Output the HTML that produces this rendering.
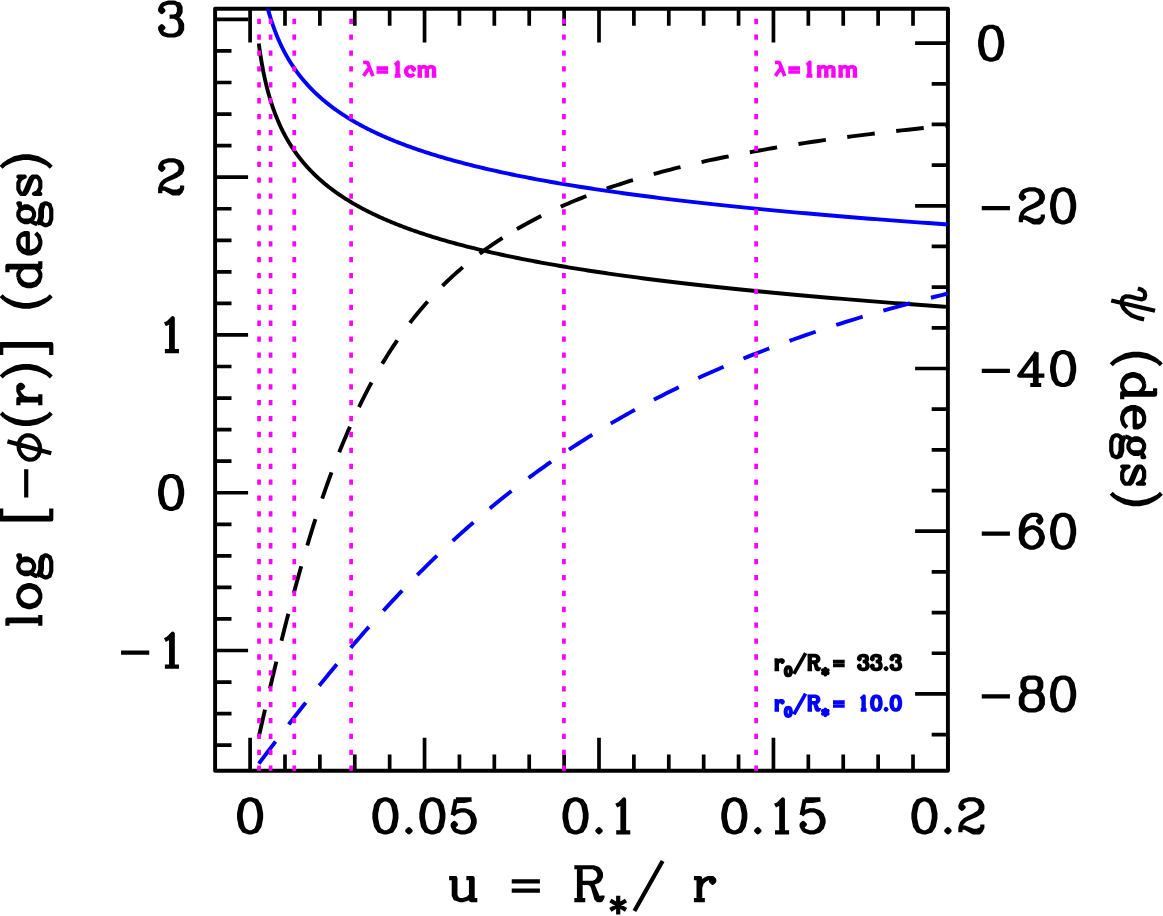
<!DOCTYPE html>
<html><head><meta charset="utf-8"><title>plot</title><style>html,body{margin:0;padding:0;background:#fff;font-family:"Liberation Sans",sans-serif}svg{display:block}</style></head><body>
<svg width="1163" height="916" viewBox="0 0 1163 916">
<rect width="1163" height="916" fill="#fff"/>
<defs><clipPath id="c"><rect x="215.10" y="8.70" width="732.80" height="762.10"/></clipPath></defs>
<path d="M250.10,770.80v-33.00M250.10,8.70v33.70M284.99,770.80v-16.40M284.99,8.70v17.10M319.88,770.80v-16.40M319.88,8.70v17.10M354.77,770.80v-16.40M354.77,8.70v17.10M389.66,770.80v-16.40M389.66,8.70v17.10M424.55,770.80v-33.00M424.55,8.70v33.70M459.44,770.80v-16.40M459.44,8.70v17.10M494.33,770.80v-16.40M494.33,8.70v17.10M529.22,770.80v-16.40M529.22,8.70v17.10M564.11,770.80v-16.40M564.11,8.70v17.10M599.00,770.80v-33.00M599.00,8.70v33.70M633.89,770.80v-16.40M633.89,8.70v17.10M668.78,770.80v-16.40M668.78,8.70v17.10M703.67,770.80v-16.40M703.67,8.70v17.10M738.56,770.80v-16.40M738.56,8.70v17.10M773.45,770.80v-33.00M773.45,8.70v33.70M808.34,770.80v-16.40M808.34,8.70v17.10M843.23,770.80v-16.40M843.23,8.70v17.10M878.12,770.80v-16.40M878.12,8.70v17.10M913.01,770.80v-16.40M913.01,8.70v17.10M947.90,770.80v-33.00M947.90,8.70v33.70M215.10,745.19h16.40M215.10,713.63h16.40M215.10,682.08h16.40M215.10,650.52h33.00M215.10,618.96h16.40M215.10,587.41h16.40M215.10,555.85h16.40M215.10,524.30h16.40M215.10,492.74h33.00M215.10,461.18h16.40M215.10,429.63h16.40M215.10,398.07h16.40M215.10,366.52h16.40M215.10,334.96h33.00M215.10,303.40h16.40M215.10,271.85h16.40M215.10,240.29h16.40M215.10,208.74h16.40M215.10,177.18h33.00M215.10,145.62h16.40M215.10,114.07h16.40M215.10,82.51h16.40M215.10,50.96h16.40M215.10,19.40h33.00M947.90,734.58h-16.20M947.90,693.90h-32.80M947.90,653.23h-16.20M947.90,612.55h-16.20M947.90,571.88h-16.20M947.90,531.20h-32.80M947.90,490.53h-16.20M947.90,449.85h-16.20M947.90,409.18h-16.20M947.90,368.50h-32.80M947.90,327.82h-16.20M947.90,287.15h-16.20M947.90,246.47h-16.20M947.90,205.80h-32.80M947.90,165.12h-16.20M947.90,124.45h-16.20M947.90,83.78h-16.20M947.90,43.10h-32.80" fill="none" stroke="#000" stroke-width="3.70"/>
<rect x="215.10" y="8.70" width="732.80" height="762.10" fill="none" stroke="#000" stroke-width="3.90" stroke-linejoin="round"/>
<g clip-path="url(#c)" fill="none" stroke-linejoin="round">
<path d="M258.82,43.61L259.24,46.76L259.66,49.77L260.08,52.65L260.50,55.41L260.92,58.06L261.33,60.61L261.75,63.06L262.17,65.42L262.59,67.70L263.01,69.91L263.43,72.04L263.85,74.11L264.27,76.11L264.68,78.05L265.10,79.94L265.52,81.77L265.94,83.55L266.36,85.29L266.78,86.98L267.20,88.62L267.61,90.23L268.03,91.80L268.45,93.33L268.87,94.82L269.29,96.28L269.71,97.71L270.13,99.10L270.55,100.47L270.96,101.81L271.38,103.12L271.80,104.41L272.22,105.67L272.64,106.90L273.06,108.11L273.48,109.30L273.89,110.47L274.31,111.62L274.73,112.74L275.15,113.85L275.57,114.94L275.99,116.00L276.41,117.06L276.83,118.09L277.24,119.11L277.66,120.11L278.08,121.09L278.50,122.06L278.92,123.02L279.34,123.96L279.76,124.89L280.18,125.80L280.59,126.70L281.01,127.59L281.43,128.47L281.85,129.33L282.27,130.18L282.69,131.02L283.11,131.85L283.52,132.67L283.94,133.48L284.36,134.27L284.78,135.06L285.20,135.84L285.62,136.60L286.04,137.36L286.46,138.11L286.87,138.85L287.29,139.58L287.71,140.30L288.13,141.02L288.55,141.72L288.97,142.42L289.39,143.11L289.80,143.79L290.22,144.47L290.64,145.14L291.06,145.80L291.48,146.45L291.90,147.10L292.32,147.74L292.74,148.37L293.17,149.01L293.60,149.65L294.03,150.29L294.47,150.92L294.91,151.56L295.36,152.20L295.81,152.83L296.27,153.47L296.73,154.10L297.20,154.74L297.67,155.37L298.15,156.01L298.63,156.64L299.11,157.27L299.60,157.91L300.10,158.54L300.60,159.17L301.10,159.80L301.61,160.44L302.13,161.07L302.65,161.70L303.17,162.33L303.70,162.96L304.24,163.59L304.78,164.22L305.33,164.85L305.88,165.47L306.44,166.10L307.00,166.73L307.57,167.36L308.15,167.98L308.73,168.61L309.31,169.24L309.90,169.86L310.50,170.49L311.11,171.11L311.72,171.74L312.33,172.36L312.96,172.98L313.58,173.61L314.22,174.23L314.86,174.85L315.51,175.48L316.16,176.10L316.82,176.72L317.49,177.34L318.16,177.96L318.84,178.58L319.53,179.20L320.23,179.82L320.93,180.43L321.64,181.05L322.35,181.67L323.07,182.29L323.80,182.90L324.54,183.52L325.28,184.14L326.04,184.75L326.80,185.37L327.56,185.98L328.34,186.59L329.12,187.21L329.91,187.82L330.71,188.43L331.51,189.04L332.33,189.66L333.15,190.27L333.98,190.88L334.82,191.49L335.67,192.10L336.52,192.71L337.39,193.31L338.26,193.92L339.14,194.53L340.03,195.14L340.93,195.74L341.84,196.35L342.76,196.95L343.68,197.56L344.62,198.16L345.56,198.77L346.52,199.37L347.48,199.97L348.46,200.57L349.44,201.18L350.43,201.78L351.44,202.38L352.45,202.98L353.47,203.58L354.51,204.18L355.55,204.78L356.61,205.37L357.67,205.97L358.75,206.57L359.83,207.16L360.93,207.76L362.04,208.35L363.16,208.95L364.29,209.54L365.43,210.14L366.58,210.73L367.75,211.32L368.93,211.91L370.11,212.50L371.31,213.09L372.53,213.68L373.75,214.27L374.99,214.86L376.24,215.45L377.50,216.04L378.77,216.63L380.06,217.21L381.36,217.80L382.67,218.38L384.00,218.97L385.33,219.55L386.69,220.13L388.05,220.72L389.43,221.30L390.83,221.88L392.23,222.46L393.65,223.04L395.09,223.62L396.54,224.20L398.00,224.78L399.48,225.36L400.98,225.93L402.49,226.51L404.01,227.09L405.55,227.66L407.10,228.24L408.67,228.81L410.26,229.38L411.86,229.96L413.48,230.53L415.11,231.10L416.76,231.67L418.43,232.24L420.11,232.81L421.81,233.38L423.53,233.95L425.26,234.51L427.01,235.08L428.78,235.65L430.57,236.21L432.38,236.78L434.20,237.34L436.04,237.90L437.90,238.47L439.78,239.03L441.67,239.59L443.59,240.15L445.52,240.71L447.48,241.27L449.45,241.83L451.45,242.39L453.46,242.95L455.49,243.50L457.55,244.06L459.62,244.61L461.72,245.17L463.83,245.72L465.97,246.28L468.13,246.83L470.31,247.38L472.51,247.93L474.73,248.48L476.98,249.03L479.25,249.58L481.54,250.13L483.86,250.68L486.19,251.22L488.55,251.77L490.94,252.32L493.35,252.86L495.78,253.40L498.24,253.95L500.72,254.49L503.22,255.03L505.76,255.58L508.31,256.12L510.89,256.66L513.50,257.20L516.14,257.73L518.80,258.27L521.48,258.81L524.20,259.35L526.94,259.88L529.71,260.42L532.50,260.95L535.33,261.48L538.18,262.02L541.06,262.55L543.97,263.08L546.91,263.61L549.88,264.14L552.87,264.67L555.90,265.20L558.96,265.73L562.05,266.26L565.17,266.78L568.32,267.31L571.50,267.84L574.71,268.36L577.96,268.88L581.24,269.41L584.55,269.93L587.90,270.45L591.27,270.97L594.68,271.49L598.13,272.01L601.61,272.53L605.13,273.05L608.68,273.57L612.26,274.09L615.88,274.60L619.54,275.12L623.24,275.64L626.97,276.15L630.74,276.66L634.54,277.18L638.39,277.69L642.27,278.20L646.19,278.71L650.15,279.22L654.15,279.73L658.19,280.24L662.27,280.75L666.40,281.26L670.56,281.77L674.76,282.27L679.01,282.78L683.30,283.29L687.63,283.79L692.01,284.30L696.43,284.80L700.89,285.30L705.40,285.81L709.95,286.31L714.55,286.81L719.19,287.31L723.88,287.81L728.62,288.31L733.41,288.81L738.24,289.31L743.12,289.81L748.05,290.30L753.03,290.80L758.06,291.30L763.14,291.79L768.27,292.29L773.45,292.78L778.69,293.28L783.97,293.77L789.31,294.26L794.70,294.76L800.15,295.25L805.65,295.74L811.20,296.23L816.82,296.72L822.48,297.21L828.21,297.70L833.99,298.19L839.83,298.68L845.72,299.17L851.68,299.66L857.70,300.15L863.77,300.64L869.91,301.12L876.11,301.61L882.37,302.10L888.69,302.58L895.07,303.07L901.52,303.55L908.04,304.04L914.62,304.52L921.26,305.01L927.98,305.49L934.75,305.97L941.60,306.46L947.90,306.90" stroke="#000" stroke-width="3.90"/>
<path d="M258.82,736.63L259.24,734.79L259.66,732.95L260.08,731.11L260.50,729.28L260.92,727.45L261.33,725.62L261.75,723.79L262.17,721.96L262.59,720.13L263.01,718.31L263.43,716.49L263.85,714.67L264.27,712.86L264.68,711.04L265.10,709.23L265.52,707.42L265.94,705.62L266.36,703.81L266.78,702.01L267.20,700.21L267.61,698.41L268.03,696.62L268.45,694.83L268.87,693.04L269.29,691.26L269.71,689.48L270.13,687.70L270.55,685.92L270.96,684.15L271.38,682.38L271.80,680.61L272.22,678.85L272.64,677.08L273.06,675.33L273.48,673.57L273.89,671.82L274.31,670.08L274.73,668.33L275.15,666.59L275.57,664.85L275.99,663.12L276.41,661.39L276.83,659.66L277.24,657.94L277.66,656.22L278.08,654.51L278.50,652.79L278.92,651.09L279.34,649.38L279.76,647.68L280.18,645.99L280.59,644.29L281.01,642.60L281.43,640.92L281.85,639.24L282.27,637.56L282.69,635.89L283.11,634.22L283.52,632.56L283.94,630.90L284.36,629.24L284.78,627.59L285.20,625.94L285.62,624.30L286.04,622.66L286.46,621.02L286.87,619.39L287.29,617.77L287.71,616.14L288.13,614.53L288.55,612.91L288.97,611.30L289.39,609.70L289.80,608.10L290.22,606.50L290.64,604.91L291.06,603.33L291.48,601.75L291.90,600.17L292.32,598.60L292.74,597.01L293.17,595.42L293.60,593.82L294.03,592.20L294.47,590.58L294.91,588.94L295.36,587.29L295.81,585.64L296.27,583.97L296.73,582.28L297.20,580.59L297.67,578.89L298.15,577.18L298.63,575.45L299.11,573.72L299.60,571.97L300.10,570.21L300.60,568.45L301.10,566.67L301.61,564.88L302.13,563.08L302.65,561.27L303.17,559.45L303.70,557.61L304.24,555.77L304.78,553.92L305.33,552.06L305.88,550.18L306.44,548.30L307.00,546.41L307.57,544.50L308.15,542.59L308.73,540.67L309.31,538.73L309.90,536.79L310.50,534.84L311.11,532.88L311.72,530.91L312.33,528.92L312.96,526.93L313.58,524.94L314.22,522.93L314.86,520.91L315.51,518.89L316.16,516.85L316.82,514.81L317.49,512.76L318.16,510.70L318.84,508.63L319.53,506.56L320.23,504.47L320.93,502.38L321.64,500.28L322.35,498.18L323.07,496.06L323.80,493.94L324.54,491.82L325.28,489.68L326.04,487.54L326.80,485.39L327.56,483.24L328.34,481.08L329.12,478.92L329.91,476.74L330.71,474.57L331.51,472.39L332.33,470.20L333.15,468.01L333.98,465.81L334.82,463.61L335.67,461.40L336.52,459.19L337.39,456.97L338.26,454.76L339.14,452.53L340.03,450.31L340.93,448.08L341.84,445.85L342.76,443.61L343.68,441.37L344.62,439.13L345.56,436.89L346.52,434.65L347.48,432.40L348.46,430.15L349.44,427.91L350.43,425.66L351.44,423.40L352.45,421.15L353.47,418.90L354.51,416.65L355.55,414.40L356.61,412.14L357.67,409.89L358.75,407.64L359.83,405.39L360.93,403.14L362.04,400.89L363.16,398.64L364.29,396.40L365.43,394.15L366.58,391.91L367.75,389.67L368.93,387.44L370.11,385.20L371.31,382.97L372.53,380.74L373.75,378.52L374.99,376.30L376.24,374.08L377.50,371.87L378.77,369.66L380.06,367.45L381.36,365.25L382.67,363.06L384.00,360.87L385.33,358.68L386.69,356.50L388.05,354.33L389.43,352.16L390.83,349.99L392.23,347.84L393.65,345.68L395.09,343.54L396.54,341.40L398.00,339.27L399.48,337.14L400.98,335.03L402.49,332.92L404.01,330.81L405.55,328.72L407.10,326.63L408.67,324.55L410.26,322.47L411.86,320.41L413.48,318.35L415.11,316.31L416.76,314.27L418.43,312.23L420.11,310.21L421.81,308.20L423.53,306.19L425.26,304.20L427.01,302.21L428.78,300.23L430.57,298.26L432.38,296.31L434.20,294.36L436.04,292.42L437.90,290.49L439.78,288.57L441.67,286.66L443.59,284.76L445.52,282.87L447.48,280.99L449.45,279.12L451.45,277.26L453.46,275.41L455.49,273.57L457.55,271.74L459.62,269.92L461.72,268.12L463.83,266.32L465.97,264.54L468.13,262.76L470.31,261.00L472.51,259.24L474.73,257.50L476.98,255.77L479.25,254.05L481.54,252.34L483.86,250.64L486.19,248.95L488.55,247.27L490.94,245.61L493.35,243.95L495.78,242.31L498.24,240.67L500.72,239.05L503.22,237.44L505.76,235.84L508.31,234.25L510.89,232.67L513.50,231.11L516.14,229.55L516.90,229.10" stroke="#000" stroke-width="3.90" stroke-dasharray="27.7 21.6"/>
<path d="M516.90,229.10L518.80,228.01L521.48,226.47L524.20,224.95L526.94,223.44L529.71,221.94L532.50,220.45L535.33,218.97L538.18,217.50L541.06,216.05L543.97,214.60L546.91,213.16L549.88,211.74L552.87,210.33L555.90,208.93L558.96,207.53L562.05,206.15L565.17,204.78L568.32,203.42L571.50,202.07L574.71,200.74L577.96,199.41L581.24,198.09L584.55,196.78L587.90,195.49L591.27,194.20L594.68,192.93L598.13,191.66L601.61,190.41L605.13,189.16L608.68,187.93L612.26,186.70L615.88,185.49L619.54,184.28L623.24,183.09L626.97,181.91L630.74,180.73L634.54,179.57L638.39,178.41L642.27,177.27L646.19,176.13L650.15,175.01L654.15,173.89L658.19,172.78L662.27,171.69L666.40,170.60L670.56,169.52L674.76,168.45L679.01,167.39L683.30,166.34L687.63,165.30L692.01,164.26L696.43,163.24L700.89,162.23L705.40,161.22L709.95,160.22L714.55,159.23L719.19,158.25L723.88,157.28L728.62,156.32L733.41,155.37L738.24,154.42L743.12,153.48L748.05,152.56L753.03,151.64L758.06,150.72L763.14,149.82L768.27,148.92L773.45,148.04L778.69,147.16L783.97,146.28L789.31,145.42L794.70,144.56L800.15,143.71L805.65,142.87L811.20,142.04L816.82,141.22L822.48,140.40L828.21,139.59L833.99,138.78L839.83,137.99L845.72,137.20L851.68,136.42L857.70,135.64L863.77,134.88L869.91,134.12L876.11,133.36L882.37,132.62L888.69,131.88L895.07,131.15L901.52,130.42L908.04,129.70L914.62,128.99L921.26,128.28L927.98,127.58L934.75,126.89L941.60,126.20L947.90,125.58" stroke="#000" stroke-width="3.90" stroke-dasharray="27.7 21.6"/>
<path d="M258.82,-38.82L259.24,-35.67L259.66,-32.66L260.08,-29.78L260.50,-27.02L260.92,-24.37L261.33,-21.82L261.75,-19.37L262.17,-17.01L262.59,-14.73L263.01,-12.52L263.43,-10.39L263.85,-8.32L264.27,-6.32L264.68,-4.38L265.10,-2.50L265.52,-0.66L265.94,1.12L266.36,2.86L266.78,4.54L267.20,6.19L267.61,7.80L268.03,9.36L268.45,10.89L268.87,12.39L269.29,13.85L269.71,15.28L270.13,16.67L270.55,18.04L270.96,19.38L271.38,20.69L271.80,21.98L272.22,23.24L272.64,24.47L273.06,25.68L273.48,26.87L273.89,28.04L274.31,29.18L274.73,30.31L275.15,31.42L275.57,32.50L275.99,33.57L276.41,34.62L276.83,35.66L277.24,36.68L277.66,37.68L278.08,38.66L278.50,39.63L278.92,40.59L279.34,41.53L279.76,42.46L280.18,43.37L280.59,44.27L281.01,45.16L281.43,46.03L281.85,46.90L282.27,47.75L282.69,48.59L283.11,49.42L283.52,50.24L283.94,51.04L284.36,51.84L284.78,52.63L285.20,53.40L285.62,54.17L286.04,54.93L286.46,55.68L286.87,56.42L287.29,57.15L287.71,57.87L288.13,58.59L288.55,59.29L288.97,59.99L289.39,60.68L289.80,61.36L290.22,62.04L290.64,62.71L291.06,63.37L291.48,64.02L291.90,64.67L292.32,65.31L292.74,65.94L293.17,66.58L293.60,67.22L294.03,67.86L294.47,68.49L294.91,69.13L295.36,69.77L295.81,70.40L296.27,71.04L296.73,71.67L297.20,72.31L297.67,72.94L298.15,73.58L298.63,74.21L299.11,74.84L299.60,75.48L300.10,76.11L300.60,76.74L301.10,77.37L301.61,78.00L302.13,78.64L302.65,79.27L303.17,79.90L303.70,80.53L304.24,81.16L304.78,81.79L305.33,82.41L305.88,83.04L306.44,83.67L307.00,84.30L307.57,84.93L308.15,85.55L308.73,86.18L309.31,86.81L309.90,87.43L310.50,88.06L311.11,88.68L311.72,89.31L312.33,89.93L312.96,90.55L313.58,91.18L314.22,91.80L314.86,92.42L315.51,93.04L316.16,93.67L316.82,94.29L317.49,94.91L318.16,95.53L318.84,96.15L319.53,96.77L320.23,97.39L320.93,98.00L321.64,98.62L322.35,99.24L323.07,99.86L323.80,100.47L324.54,101.09L325.28,101.70L326.04,102.32L326.80,102.93L327.56,103.55L328.34,104.16L329.12,104.78L329.91,105.39L330.71,106.00L331.51,106.61L332.33,107.22L333.15,107.84L333.98,108.45L334.82,109.06L335.67,109.67L336.52,110.27L337.39,110.88L338.26,111.49L339.14,112.10L340.03,112.70L340.93,113.31L341.84,113.92L342.76,114.52L343.68,115.13L344.62,115.73L345.56,116.34L346.52,116.94L347.48,117.54L348.46,118.14L349.44,118.75L350.43,119.35L351.44,119.95L352.45,120.55L353.47,121.15L354.51,121.75L355.55,122.34L356.61,122.94L357.67,123.54L358.75,124.14L359.83,124.73L360.93,125.33L362.04,125.92L363.16,126.52L364.29,127.11L365.43,127.70L366.58,128.30L367.75,128.89L368.93,129.48L370.11,130.07L371.31,130.66L372.53,131.25L373.75,131.84L374.99,132.43L376.24,133.02L377.50,133.61L378.77,134.19L380.06,134.78L381.36,135.37L382.67,135.95L384.00,136.54L385.33,137.12L386.69,137.70L388.05,138.29L389.43,138.87L390.83,139.45L392.23,140.03L393.65,140.61L395.09,141.19L396.54,141.77L398.00,142.35L399.48,142.93L400.98,143.50L402.49,144.08L404.01,144.66L405.55,145.23L407.10,145.80L408.67,146.38L410.26,146.95L411.86,147.52L413.48,148.10L415.11,148.67L416.76,149.24L418.43,149.81L420.11,150.38L421.81,150.95L423.53,151.52L425.26,152.08L427.01,152.65L428.78,153.22L430.57,153.78L432.38,154.35L434.20,154.91L436.04,155.47L437.90,156.04L439.78,156.60L441.67,157.16L443.59,157.72L445.52,158.28L447.48,158.84L449.45,159.40L451.45,159.96L453.46,160.51L455.49,161.07L457.55,161.63L459.62,162.18L461.72,162.74L463.83,163.29L465.97,163.84L468.13,164.40L470.31,164.95L472.51,165.50L474.73,166.05L476.98,166.60L479.25,167.15L481.54,167.70L483.86,168.25L486.19,168.79L488.55,169.34L490.94,169.88L493.35,170.43L495.78,170.97L498.24,171.52L500.72,172.06L503.22,172.60L505.76,173.14L508.31,173.68L510.89,174.22L513.50,174.76L516.14,175.30L518.80,175.84L521.48,176.38L524.20,176.91L526.94,177.45L529.71,177.99L532.50,178.52L535.33,179.05L538.18,179.59L541.06,180.12L543.97,180.65L546.91,181.18L549.88,181.71L552.87,182.24L555.90,182.77L558.96,183.30L562.05,183.83L565.17,184.35L568.32,184.88L571.50,185.40L574.71,185.93L577.96,186.45L581.24,186.98L584.55,187.50L587.90,188.02L591.27,188.54L594.68,189.06L598.13,189.58L601.61,190.10L605.13,190.62L608.68,191.14L612.26,191.66L615.88,192.17L619.54,192.69L623.24,193.20L626.97,193.72L630.74,194.23L634.54,194.75L638.39,195.26L642.27,195.77L646.19,196.28L650.15,196.79L654.15,197.30L658.19,197.81L662.27,198.32L666.40,198.83L670.56,199.34L674.76,199.84L679.01,200.35L683.30,200.86L687.63,201.36L692.01,201.86L696.43,202.37L700.89,202.87L705.40,203.37L709.95,203.88L714.55,204.38L719.19,204.88L723.88,205.38L728.62,205.88L733.41,206.38L738.24,206.88L743.12,207.37L748.05,207.87L753.03,208.37L758.06,208.87L763.14,209.36L768.27,209.86L773.45,210.35L778.69,210.85L783.97,211.34L789.31,211.83L794.70,212.33L800.15,212.82L805.65,213.31L811.20,213.80L816.82,214.29L822.48,214.78L828.21,215.27L833.99,215.76L839.83,216.25L845.72,216.74L851.68,217.23L857.70,217.72L863.77,218.20L869.91,218.69L876.11,219.18L882.37,219.66L888.69,220.15L895.07,220.64L901.52,221.12L908.04,221.61L914.62,222.09L921.26,222.58L927.98,223.06L934.75,223.54L941.60,224.03L947.90,224.47" stroke="#0000ff" stroke-width="3.90"/>
<path d="M258.82,763.63L259.24,763.07L259.66,762.52L260.08,761.96L260.50,761.40L260.92,760.85L261.33,760.29L261.75,759.74L262.17,759.18L262.59,758.63L263.01,758.07L263.43,757.52L263.85,756.96L264.27,756.41L264.68,755.86L265.10,755.30L265.52,754.75L265.94,754.20L266.36,753.64L266.78,753.09L267.20,752.54L267.61,751.98L268.03,751.43L268.45,750.88L268.87,750.33L269.29,749.78L269.71,749.22L270.13,748.67L270.55,748.12L270.96,747.57L271.38,747.02L271.80,746.47L272.22,745.92L272.64,745.37L273.06,744.82L273.48,744.27L273.89,743.72L274.31,743.17L274.73,742.62L275.15,742.07L275.57,741.52L275.99,740.97L276.41,740.43L276.83,739.88L277.24,739.33L277.66,738.78L278.08,738.24L278.50,737.69L278.92,737.14L279.34,736.59L279.76,736.05L280.18,735.50L280.59,734.96L281.01,734.41L281.43,733.86L281.85,733.32L282.27,732.77L282.69,732.23L283.11,731.68L283.52,731.14L283.94,730.60L284.36,730.05L284.78,729.51L285.20,728.97L285.62,728.42L286.04,727.88L286.46,727.34L286.87,726.80L287.29,726.25L287.71,725.71L288.13,725.17L288.55,724.63L288.97,724.09L289.39,723.55L289.80,723.01L290.22,722.47L290.64,721.93L291.06,721.39L291.48,720.85L291.90,720.31L292.32,719.77L292.74,719.23L293.17,718.68L293.60,718.12L294.03,717.57L294.47,717.00L294.91,716.43L295.36,715.86L295.81,715.28L296.27,714.69L296.73,714.10L297.20,713.50L297.67,712.90L298.15,712.29L298.63,711.68L299.11,711.06L299.60,710.44L300.10,709.81L300.60,709.17L301.10,708.53L301.61,707.88L302.13,707.22L302.65,706.56L303.17,705.89L303.70,705.22L304.24,704.54L304.78,703.86L305.33,703.16L305.88,702.47L306.44,701.76L307.00,701.05L307.57,700.33L308.15,699.61L308.73,698.88L309.31,698.14L309.90,697.39L310.50,696.64L311.11,695.88L311.72,695.12L312.33,694.35L312.96,693.57L313.58,692.78L314.22,691.99L314.86,691.19L315.51,690.38L316.16,689.57L316.82,688.74L317.49,687.91L318.16,687.08L318.84,686.23L319.53,685.38L320.23,684.52L320.93,683.65L321.64,682.78L322.35,681.90L323.07,681.01L323.80,680.11L324.54,679.20L325.28,678.29L326.04,677.37L326.80,676.44L327.56,675.50L328.34,674.55L329.12,673.60L329.91,672.63L330.71,671.66L331.51,670.68L332.33,669.69L333.15,668.70L333.98,667.69L334.82,666.68L335.67,665.66L336.52,664.63L337.39,663.59L338.26,662.54L339.14,661.48L340.03,660.42L340.93,659.34L341.84,658.26L342.76,657.17L343.68,656.06L344.62,654.95L345.56,653.83L346.52,652.70L347.48,651.57L348.46,650.42L349.44,649.26L350.43,648.10L351.44,646.92L352.45,645.73L353.47,644.54L354.51,643.34L355.55,642.12L356.61,640.90L357.67,639.67L358.75,638.43L359.83,637.17L360.93,635.91L362.04,634.64L363.16,633.36L364.29,632.07L365.43,630.77L366.58,629.46L367.75,628.14L368.93,626.81L370.11,625.47L371.31,624.12L372.53,622.76L373.75,621.39L374.99,620.01L376.24,618.62L377.50,617.22L378.77,615.80L380.06,614.38L381.36,612.95L382.67,611.51L384.00,610.06L385.33,608.60L386.69,607.13L388.05,605.65L389.43,604.16L390.83,602.66L392.23,601.15L393.65,599.63L395.09,598.10L396.54,596.55L398.00,595.00L399.48,593.44L400.98,591.87L402.49,590.29L404.01,588.70L405.55,587.10L407.10,585.49L408.67,583.86L410.26,582.23L411.86,580.59L413.48,578.94L415.11,577.28L416.76,575.61L418.43,573.93L420.11,572.24L421.81,570.54L423.53,568.83L425.26,567.11L427.01,565.39L428.78,563.65L430.57,561.90L432.38,560.15L434.20,558.38L436.04,556.61L437.90,554.82L439.78,553.03L441.67,551.23L443.59,549.42L445.52,547.60L447.48,545.77L449.45,543.94L451.45,542.09L453.46,540.24L455.49,538.38L457.55,536.51L459.62,534.63L461.72,532.74L463.83,530.85L465.97,528.95L468.13,527.04L470.31,525.12L472.51,523.19L474.73,521.26L476.98,519.32L479.25,517.37L481.54,515.42L483.86,513.46L486.19,511.49L488.55,509.52L490.94,507.54L493.35,505.55L495.78,503.56L498.24,501.56L500.72,499.55L503.22,497.54L505.76,495.52L508.31,493.50L510.89,491.47L513.50,489.44L516.14,487.40L518.80,485.36L521.48,483.31L524.20,481.26L526.94,479.21L529.71,477.15L532.50,475.08L535.33,473.01L538.18,470.94L541.06,468.87L543.97,466.79L546.91,464.70L549.88,462.62L552.87,460.53L555.90,458.44L558.96,456.35L562.05,454.25L565.17,452.16L568.32,450.06L571.50,447.96L574.71,445.85L577.96,443.75L581.24,441.64L584.55,439.54L587.90,437.43L591.27,435.33L594.68,433.22L598.13,431.11L601.61,429.00L605.13,426.89L608.68,424.79L612.26,422.68L615.88,420.57L619.54,418.47L623.24,416.37L626.97,414.26L630.74,412.16L634.54,410.06L638.39,407.97L642.27,405.87L646.19,403.78L650.15,401.69L654.15,399.60L658.19,397.51L662.27,395.43L666.40,393.35L670.56,391.28L674.76,389.20L679.01,387.13L683.30,385.07L687.63,383.01L692.01,380.95L696.43,378.90L700.89,376.85L705.40,374.81L709.95,372.77L714.55,370.74L719.19,368.71L723.88,366.69L728.62,364.67L733.41,362.66L738.24,360.65L743.12,358.65L748.05,356.66L753.03,354.67L758.06,352.69L763.14,350.71L768.27,348.74L773.45,346.78L778.69,344.83L783.97,342.88L789.31,340.94L794.70,339.00L800.15,337.08L805.65,335.16L811.20,333.25L816.82,331.34L822.48,329.45L828.21,327.56L833.99,325.68L839.83,323.81L845.72,321.94L851.68,320.09L857.70,318.24L863.77,316.40L869.91,314.57L876.11,312.75L882.37,310.94L888.69,309.13L895.07,307.34L901.52,305.55L908.04,303.77L914.62,302.01L921.26,300.25L927.98,298.50L934.75,296.76L941.60,295.03L947.90,293.46" stroke="#0000ff" stroke-width="3.90" stroke-dasharray="27.7 21.6"/>
<path d="M259.05,770.90V-1.30" stroke="#ff00ff" stroke-width="3.7" stroke-dasharray="5.3 10.593"/>
<path d="M270.60,770.90V-1.30" stroke="#ff00ff" stroke-width="3.7" stroke-dasharray="5.3 10.593"/>
<path d="M294.25,770.90V-1.30" stroke="#ff00ff" stroke-width="3.7" stroke-dasharray="5.3 10.593"/>
<path d="M351.10,770.90V-1.30" stroke="#ff00ff" stroke-width="3.7" stroke-dasharray="5.3 10.593"/>
<path d="M563.90,770.90V-1.30" stroke="#ff00ff" stroke-width="3.7" stroke-dasharray="5.3 10.593"/>
<path d="M756.15,770.90V-1.30" stroke="#ff00ff" stroke-width="3.7" stroke-dasharray="5.3 10.593"/>
</g>
<path d="M248.53,799.43L243.84,801.00L240.71,805.69L239.14,813.52L239.14,818.21L240.71,826.04L243.84,830.73L248.53,832.30L251.66,832.30L256.36,830.73L259.49,826.04L261.06,818.21L261.06,813.52L259.49,805.69L256.36,801.00L251.66,799.43ZM248.53,799.43L245.41,801.00L243.84,802.56L242.27,805.69L240.71,813.52L240.71,818.21L242.27,826.04L243.84,829.17L245.41,830.73L248.53,832.30M251.66,832.30L254.79,830.73L256.36,829.17L257.93,826.04L259.49,818.21L259.49,813.52L257.93,805.69L256.36,802.56L254.79,801.00L251.66,799.43M383.86,799.43L379.17,801.00L376.04,805.69L374.47,813.52L374.47,818.21L376.04,826.04L379.17,830.73L383.86,832.30L386.99,832.30L391.69,830.73L394.82,826.04L396.38,818.21L396.38,813.52L394.82,805.69L391.69,801.00L386.99,799.43ZM383.86,799.43L380.73,801.00L379.17,802.56L377.60,805.69L376.04,813.52L376.04,818.21L377.60,826.04L379.17,829.17L380.73,830.73L383.86,832.30M386.99,832.30L390.12,830.73L391.69,829.17L393.25,826.04L394.82,818.21L394.82,813.52L393.25,805.69L391.69,802.56L390.12,801.00L386.99,799.43M408.90,829.17L407.34,830.73L408.90,832.30L410.47,830.73ZM430.81,799.43L426.12,801.00L422.99,805.69L421.42,813.52L421.42,818.21L422.99,826.04L426.12,830.73L430.81,832.30L433.94,832.30L438.64,830.73L441.77,826.04L443.33,818.21L443.33,813.52L441.77,805.69L438.64,801.00L433.94,799.43ZM430.81,799.43L427.68,801.00L426.12,802.56L424.55,805.69L422.99,813.52L422.99,818.21L424.55,826.04L426.12,829.17L427.68,830.73L430.81,832.30M433.94,832.30L437.07,830.73L438.64,829.17L440.20,826.04L441.77,818.21L441.77,813.52L440.20,805.69L438.64,802.56L437.07,801.00L433.94,799.43M455.85,799.43L452.72,815.08M452.72,815.08L455.85,811.95L460.55,810.39L465.24,810.39L469.94,811.95L473.07,815.08L474.63,819.78L474.63,822.91L473.07,827.60L469.94,830.73L465.24,832.30L460.55,832.30L455.85,830.73L454.29,829.17L452.72,826.04L452.72,824.47L454.29,822.91L455.85,824.47L454.29,826.04M465.24,810.39L468.37,811.95L471.50,815.08L473.07,819.78L473.07,822.91L471.50,827.60L468.37,830.73L465.24,832.30M455.85,799.43L471.50,799.43M455.85,801.00L463.68,801.00L471.50,799.43M573.96,799.43L569.26,801.00L566.13,805.69L564.57,813.52L564.57,818.21L566.13,826.04L569.26,830.73L573.96,832.30L577.09,832.30L581.78,830.73L584.91,826.04L586.48,818.21L586.48,813.52L584.91,805.69L581.78,801.00L577.09,799.43ZM573.96,799.43L570.83,801.00L569.26,802.56L567.70,805.69L566.13,813.52L566.13,818.21L567.70,826.04L569.26,829.17L570.83,830.73L573.96,832.30M577.09,832.30L580.22,830.73L581.78,829.17L583.35,826.04L584.91,818.21L584.91,813.52L583.35,805.69L581.78,802.56L580.22,801.00L577.09,799.43M599.00,829.17L597.43,830.73L599.00,832.30L600.57,830.73ZM616.22,805.69L619.35,804.13L624.04,799.43L624.04,832.30M622.48,801.00L622.48,832.30M616.22,832.30L630.30,832.30M732.76,799.43L728.07,801.00L724.94,805.69L723.37,813.52L723.37,818.21L724.94,826.04L728.07,830.73L732.76,832.30L735.89,832.30L740.59,830.73L743.72,826.04L745.28,818.21L745.28,813.52L743.72,805.69L740.59,801.00L735.89,799.43ZM732.76,799.43L729.63,801.00L728.07,802.56L726.50,805.69L724.94,813.52L724.94,818.21L726.50,826.04L728.07,829.17L729.63,830.73L732.76,832.30M735.89,832.30L739.02,830.73L740.59,829.17L742.15,826.04L743.72,818.21L743.72,813.52L742.15,805.69L740.59,802.56L739.02,801.00L735.89,799.43M757.80,829.17L756.24,830.73L757.80,832.30L759.37,830.73ZM775.02,805.69L778.15,804.13L782.84,799.43L782.84,832.30M781.28,801.00L781.28,832.30M775.02,832.30L789.10,832.30M804.75,799.43L801.62,815.08M801.62,815.08L804.75,811.95L809.45,810.39L814.14,810.39L818.84,811.95L821.97,815.08L823.53,819.78L823.53,822.91L821.97,827.60L818.84,830.73L814.14,832.30L809.45,832.30L804.75,830.73L803.19,829.17L801.62,826.04L801.62,824.47L803.19,822.91L804.75,824.47L803.19,826.04M814.14,810.39L817.27,811.95L820.40,815.08L821.97,819.78L821.97,822.91L820.40,827.60L817.27,830.73L814.14,832.30M804.75,799.43L820.40,799.43M804.75,801.00L812.58,801.00L820.40,799.43M922.86,799.43L918.17,801.00L915.04,805.69L913.47,813.52L913.47,818.21L915.04,826.04L918.17,830.73L922.86,832.30L925.99,832.30L930.69,830.73L933.82,826.04L935.38,818.21L935.38,813.52L933.82,805.69L930.69,801.00L925.99,799.43ZM922.86,799.43L919.73,801.00L918.17,802.56L916.60,805.69L915.04,813.52L915.04,818.21L916.60,826.04L918.17,829.17L919.73,830.73L922.86,832.30M925.99,832.30L929.12,830.73L930.69,829.17L932.25,826.04L933.82,818.21L933.82,813.52L932.25,805.69L930.69,802.56L929.12,801.00L925.99,799.43M947.90,829.17L946.34,830.73L947.90,832.30L949.47,830.73ZM961.99,805.69L963.55,807.26L961.99,808.82L960.42,807.26L960.42,805.69L961.99,802.56L963.55,801.00L968.25,799.43L974.51,799.43L979.20,801.00L980.77,802.56L982.33,805.69L982.33,808.82L980.77,811.95L976.07,815.08L968.25,818.21L965.12,819.78L961.99,822.91L960.42,827.60L960.42,832.30M974.51,799.43L977.64,801.00L979.20,802.56L980.77,805.69L980.77,808.82L979.20,811.95L974.51,815.08L968.25,818.21M960.42,829.17L961.99,827.60L965.12,827.60L972.94,830.73L977.64,830.73L980.77,829.17L982.33,827.60M965.12,827.60L972.94,832.30L979.20,832.30L980.77,830.73L982.33,827.60L982.33,824.47M161.76,8.89L163.32,10.46L161.76,12.03L160.19,10.46L160.19,8.89L161.76,5.77L163.32,4.20L168.02,2.63L174.28,2.63L178.97,4.20L180.54,7.33L180.54,12.03L178.97,15.16L174.28,16.72L169.59,16.72M174.28,2.63L177.41,4.20L178.97,7.33L178.97,12.03L177.41,15.16L174.28,16.72M174.28,16.72L177.41,18.29L180.54,21.41L182.10,24.55L182.10,29.24L180.54,32.37L178.97,33.94L174.28,35.50L168.02,35.50L163.32,33.94L161.76,32.37L160.19,29.24L160.19,27.68L161.76,26.11L163.32,27.68L161.76,29.24M178.97,19.85L180.54,24.55L180.54,29.24L178.97,32.37L177.41,33.94L174.28,35.50M161.76,166.68L163.32,168.24L161.76,169.81L160.19,168.24L160.19,166.68L161.76,163.55L163.32,161.98L168.02,160.41L174.28,160.41L178.97,161.98L180.54,163.55L182.10,166.68L182.10,169.81L180.54,172.94L175.84,176.06L168.02,179.19L164.89,180.76L161.76,183.89L160.19,188.59L160.19,193.28M174.28,160.41L177.41,161.98L178.97,163.55L180.54,166.68L180.54,169.81L178.97,172.94L174.28,176.06L168.02,179.19M160.19,190.15L161.76,188.59L164.89,188.59L172.72,191.72L177.41,191.72L180.54,190.15L182.10,188.59M164.89,188.59L172.72,193.28L178.97,193.28L180.54,191.72L182.10,188.59L182.10,185.46M164.89,324.45L168.02,322.89L172.72,318.19L172.72,351.06M171.15,319.76L171.15,351.06M164.89,351.06L178.97,351.06M169.59,475.98L164.89,477.54L161.76,482.24L160.19,490.06L160.19,494.76L161.76,502.58L164.89,507.28L169.59,508.84L172.72,508.84L177.41,507.28L180.54,502.58L182.10,494.76L182.10,490.06L180.54,482.24L177.41,477.54L172.72,475.98ZM169.59,475.98L166.46,477.54L164.89,479.11L163.32,482.24L161.76,490.06L161.76,494.76L163.32,502.58L164.89,505.71L166.46,507.28L169.59,508.84M172.72,508.84L175.84,507.28L177.41,505.71L178.97,502.58L180.54,494.76L180.54,490.06L178.97,482.24L177.41,479.11L175.84,477.54L172.72,475.98M121.07,652.53L149.24,652.53M164.89,640.01L168.02,638.45L172.72,633.75L172.72,666.62M171.15,635.32L171.15,666.62M164.89,666.62L178.98,666.62M989.59,26.73L984.89,28.30L981.76,33.00L980.20,40.82L980.20,45.52L981.76,53.34L984.89,58.04L989.59,59.60L992.72,59.60L997.41,58.04L1000.54,53.34L1002.11,45.52L1002.11,40.82L1000.54,33.00L997.41,28.30L992.72,26.73ZM989.59,26.73L986.46,28.30L984.89,29.87L983.33,33.00L981.76,40.82L981.76,45.52L983.33,53.34L984.89,56.47L986.46,58.04L989.59,59.60M992.72,59.60L995.85,58.04L997.41,56.47L998.98,53.34L1000.54,45.52L1000.54,40.82L998.98,33.00L997.41,29.87L995.85,28.30L992.72,26.73M981.76,208.21L1009.93,208.21M1022.45,195.69L1024.02,197.26L1022.45,198.82L1020.88,197.26L1020.88,195.69L1022.45,192.56L1024.02,191.00L1028.71,189.43L1034.97,189.43L1039.66,191.00L1041.23,192.56L1042.80,195.69L1042.80,198.82L1041.23,201.95L1036.54,205.08L1028.71,208.21L1025.58,209.78L1022.45,212.91L1020.88,217.60L1020.88,222.30M1034.97,189.43L1038.10,191.00L1039.66,192.56L1041.23,195.69L1041.23,198.82L1039.66,201.95L1034.97,205.08L1028.71,208.21M1020.88,219.17L1022.45,217.60L1025.58,217.60L1033.40,220.73L1038.10,220.73L1041.23,219.17L1042.80,217.60M1025.58,217.60L1033.40,222.30L1039.66,222.30L1041.23,220.73L1042.80,217.60L1042.80,214.47M1061.58,189.43L1056.88,191.00L1053.75,195.69L1052.18,203.52L1052.18,208.21L1053.75,216.04L1056.88,220.73L1061.58,222.30L1064.70,222.30L1069.40,220.73L1072.53,216.04L1074.10,208.21L1074.10,203.52L1072.53,195.69L1069.40,191.00L1064.70,189.43ZM1061.58,189.43L1058.44,191.00L1056.88,192.56L1055.32,195.69L1053.75,203.52L1053.75,208.21L1055.32,216.04L1056.88,219.17L1058.44,220.73L1061.58,222.30M1064.70,222.30L1067.84,220.73L1069.40,219.17L1070.96,216.04L1072.53,208.21L1072.53,203.52L1070.96,195.69L1069.40,192.56L1067.84,191.00L1064.70,189.43M981.76,370.92L1009.93,370.92M1034.97,355.26L1034.97,385.00M1036.54,352.13L1036.54,385.00M1036.54,352.13L1019.32,375.61L1044.36,375.61M1030.28,385.00L1041.23,385.00M1061.58,352.13L1056.88,353.70L1053.75,358.39L1052.18,366.22L1052.18,370.92L1053.75,378.74L1056.88,383.44L1061.58,385.00L1064.70,385.00L1069.40,383.44L1072.53,378.74L1074.10,370.92L1074.10,366.22L1072.53,358.39L1069.40,353.70L1064.70,352.13ZM1061.58,352.13L1058.44,353.70L1056.88,355.26L1055.32,358.39L1053.75,366.22L1053.75,370.92L1055.32,378.74L1056.88,381.87L1058.44,383.44L1061.58,385.00M1064.70,385.00L1067.84,383.44L1069.40,381.87L1070.96,378.74L1072.53,370.92L1072.53,366.22L1070.96,358.39L1069.40,355.26L1067.84,353.70L1064.70,352.13M981.76,533.61L1009.93,533.61M1039.66,519.53L1038.10,521.09L1039.66,522.66L1041.23,521.09L1041.23,519.53L1039.66,516.40L1036.54,514.83L1031.84,514.83L1027.14,516.40L1024.02,519.53L1022.45,522.66L1020.88,528.92L1020.88,538.31L1022.45,543.00L1025.58,546.13L1030.28,547.70L1033.40,547.70L1038.10,546.13L1041.23,543.00L1042.80,538.31L1042.80,536.74L1041.23,532.05L1038.10,528.92L1033.40,527.35L1031.84,527.35L1027.14,528.92L1024.02,532.05L1022.45,536.74M1031.84,514.83L1028.71,516.40L1025.58,519.53L1024.02,522.66L1022.45,528.92L1022.45,538.31L1024.02,543.00L1027.14,546.13L1030.28,547.70M1033.40,547.70L1036.54,546.13L1039.66,543.00L1041.23,538.31L1041.23,536.74L1039.66,532.05L1036.54,528.92L1033.40,527.35M1061.58,514.83L1056.88,516.40L1053.75,521.09L1052.18,528.92L1052.18,533.61L1053.75,541.44L1056.88,546.13L1061.58,547.70L1064.70,547.70L1069.40,546.13L1072.53,541.44L1074.10,533.61L1074.10,528.92L1072.53,521.09L1069.40,516.40L1064.70,514.83ZM1061.58,514.83L1058.44,516.40L1056.88,517.96L1055.32,521.09L1053.75,528.92L1053.75,533.61L1055.32,541.44L1056.88,544.57L1058.44,546.13L1061.58,547.70M1064.70,547.70L1067.84,546.13L1069.40,544.57L1070.96,541.44L1072.53,533.61L1072.53,528.92L1070.96,521.09L1069.40,517.96L1067.84,516.40L1064.70,514.83M981.76,696.31L1009.93,696.31M1028.71,677.53L1024.02,679.10L1022.45,682.23L1022.45,686.92L1024.02,690.05L1028.71,691.62L1034.97,691.62L1039.66,690.05L1041.23,686.92L1041.23,682.23L1039.66,679.10L1034.97,677.53ZM1028.71,677.53L1025.58,679.10L1024.02,682.23L1024.02,686.92L1025.58,690.05L1028.71,691.62M1034.97,691.62L1038.10,690.05L1039.66,686.92L1039.66,682.23L1038.10,679.10L1034.97,677.53M1028.71,691.62L1024.02,693.18L1022.45,694.75L1020.88,697.88L1020.88,704.14L1022.45,707.27L1024.02,708.83L1028.71,710.40L1034.97,710.40L1039.66,708.83L1041.23,707.27L1042.80,704.14L1042.80,697.88L1041.23,694.75L1039.66,693.18L1034.97,691.62M1028.71,691.62L1025.58,693.18L1024.02,694.75L1022.45,697.88L1022.45,704.14L1024.02,707.27L1025.58,708.83L1028.71,710.40M1034.97,710.40L1038.10,708.83L1039.66,707.27L1041.23,704.14L1041.23,697.88L1039.66,694.75L1038.10,693.18L1034.97,691.62M1061.58,677.53L1056.88,679.10L1053.75,683.79L1052.18,691.62L1052.18,696.31L1053.75,704.14L1056.88,708.83L1061.58,710.40L1064.70,710.40L1069.40,708.83L1072.53,704.14L1074.10,696.31L1074.10,691.62L1072.53,683.79L1069.40,679.10L1064.70,677.53ZM1061.58,677.53L1058.44,679.10L1056.88,680.66L1055.32,683.79L1053.75,691.62L1053.75,696.31L1055.32,704.14L1056.88,707.27L1058.44,708.83L1061.58,710.40M1064.70,710.40L1067.84,708.83L1069.40,707.27L1070.96,704.14L1072.53,696.31L1072.53,691.62L1070.96,683.79L1069.40,680.66L1067.84,679.10L1064.70,677.53M449.13,878.19L455.39,878.19L455.39,895.40L456.95,898.53L460.08,900.10L463.21,900.10L467.91,898.53L471.04,895.40L471.04,878.19L466.35,878.19M453.82,878.19L453.82,895.40L455.39,898.53L460.08,900.10M471.04,878.19L472.61,878.19L472.61,900.10L471.04,900.10L471.04,895.40M472.61,900.10L477.30,900.10M511.73,881.32L539.90,881.32M511.73,890.71L539.90,890.71M574.33,867.24L593.11,867.24L597.81,868.80L599.37,870.37L600.93,873.50L600.93,876.62L599.37,879.75L597.81,881.32L593.11,882.88L580.59,882.88L580.59,867.24M574.33,900.10L585.28,900.10M579.02,867.24L579.02,900.10M580.59,882.88L580.59,900.10M588.41,882.88L591.54,884.45L593.11,886.01L597.81,896.97L599.37,898.53L600.93,898.53L602.50,896.97L602.50,895.40M591.54,884.45L593.11,887.58L596.24,898.53L597.81,900.10L600.93,900.10L602.50,896.97M593.11,867.24L596.24,868.80L597.81,870.37L599.37,873.50L599.37,876.62L597.81,879.75L596.24,881.32L593.11,882.88M618.20,895.81L618.20,914.59M610.38,900.50L626.03,909.90M626.03,900.50L610.38,909.90M634.43,911.06L662.60,860.98M693.90,878.19L700.16,878.19L700.16,900.10L693.90,900.10M698.59,878.19L698.59,900.10M700.16,887.58L701.72,882.88L704.85,879.75L707.98,878.19L712.68,878.19L714.24,879.75L714.24,881.32L712.68,882.88L711.12,881.32L712.68,879.75M700.16,900.10L704.85,900.10M7.43,625.87L7.43,619.61L40.30,619.61L40.30,625.87M7.43,621.17L40.30,621.17M40.30,619.61L40.30,614.91M18.39,597.70L19.95,602.39L23.08,605.52L27.78,607.09L30.91,607.09L35.60,605.52L38.73,602.39L40.30,597.70L40.30,594.57L38.73,589.88L35.60,586.75L30.91,585.18L27.78,585.18L23.08,586.75L19.95,589.88L18.39,594.57L18.39,597.70L19.95,600.83L23.08,603.96L27.78,605.52L30.91,605.52L35.60,603.96L38.73,600.83L40.30,597.70M18.39,594.57L19.95,591.44L23.08,588.31L27.78,586.75L30.91,586.75L35.60,588.31L38.73,591.44L40.30,594.57M37.17,575.79L35.60,575.79L32.47,574.23L30.91,572.66L27.78,574.23L24.65,574.23L21.52,572.66L19.95,571.10L18.39,567.97L18.39,564.84L19.96,561.71L21.52,560.14L24.65,558.58L27.78,558.58L30.91,560.14L32.48,561.71L34.04,564.84L34.04,567.97L32.47,571.10L30.91,572.66M37.17,575.79L38.73,574.23L40.30,569.53L40.30,561.71L41.87,557.01L45.00,555.45L46.56,555.45L49.69,557.01L51.26,561.71L51.25,571.10L49.69,575.79L46.56,577.36L44.99,577.36L41.86,575.79L40.30,571.10M37.17,575.79L40.30,574.23L41.87,569.53L41.87,561.71L43.43,557.01L45.00,555.45M19.95,571.10L23.08,572.66L29.34,572.66L32.47,571.10M19.96,561.71L23.09,560.14L29.35,560.14L32.48,561.71M21.52,560.14L19.96,558.58L18.39,555.45L19.96,555.45L19.96,558.58M1.18,517.88L1.18,519.45L51.26,519.45L51.26,508.50M1.18,517.88L51.26,517.88M1.18,517.88L1.18,508.50M26.22,497.54L26.22,469.37M29.35,435.25L32.68,436.25L35.69,438.35L38.08,441.33L39.61,444.92L40.14,448.76L39.61,452.46L38.08,455.68L35.69,458.10L32.68,459.47L29.35,459.67L26.01,458.67L23.00,456.57L20.61,453.59L19.08,450.00L18.55,446.16L19.08,442.46L20.61,439.24L23.00,436.82L26.01,435.45ZM7.44,441.36L51.26,453.25M4.31,416.16L9.00,419.29L15.26,422.42L23.09,423.99L29.35,423.99L37.17,422.42L43.43,419.29L48.13,416.16L51.26,413.03M4.31,416.16L10.57,419.29L15.26,420.86L23.09,422.42L29.35,422.42L37.17,420.86L41.87,419.29L48.13,416.16M4.31,416.16L1.18,413.03M18.39,405.21L18.39,398.95L40.30,398.95L40.30,405.21M18.39,400.51L40.30,400.51M27.78,398.95L23.09,397.38L19.96,394.25L18.39,391.12L18.39,386.43L19.96,384.86L21.52,384.86L23.09,386.43L21.52,387.99L19.96,386.43M40.30,398.95L40.30,394.25M1.18,377.03L4.31,373.90L9.00,370.78L15.26,367.64L23.09,366.08L29.35,366.08L37.17,367.64L43.43,370.78L48.13,373.90L51.26,377.03M4.31,373.90L10.57,370.78L15.26,369.21L23.09,367.64L29.35,367.64L37.17,369.21L41.87,370.78L48.13,373.90M1.18,355.12L1.18,344.17L51.26,344.17L51.26,355.12M1.18,345.74L51.26,345.74M4.31,298.79L9.00,301.92L15.26,305.05L23.09,306.61L29.35,306.61L37.17,305.05L43.43,301.92L48.13,298.79L51.26,295.66M4.31,298.79L10.57,301.92L15.26,303.48L23.09,305.05L29.35,305.05L37.17,303.48L41.87,301.92L48.13,298.79M4.31,298.79L1.18,295.66M18.39,276.88L19.96,281.57L23.09,284.70L27.78,286.26L30.91,286.26L35.61,284.70L38.74,281.57L40.30,276.88L40.30,273.75L38.74,270.62L35.61,267.49L7.44,267.49L7.44,272.18M18.39,276.88L19.96,280.00L23.09,283.13L27.78,284.70L30.91,284.70L35.61,283.13L38.74,280.00L40.30,276.88M18.39,276.88L18.39,273.75L19.96,270.62L23.09,267.49M7.44,267.49L7.44,265.92L40.30,265.92L40.30,267.49L35.61,267.49M40.30,265.92L40.30,261.23M27.78,251.84L30.91,251.84L35.61,250.27L38.74,247.14L40.30,244.01L40.30,240.88L38.74,236.19L35.61,233.06M27.78,251.84L23.09,250.27L19.96,247.14L18.39,244.01L18.39,239.31L19.96,236.19L21.52,234.62L24.65,233.06L27.78,233.06ZM18.39,244.01L19.96,248.71L23.09,251.84L27.78,253.40L30.91,253.40L35.61,251.84L38.74,248.71L40.30,244.01M19.96,236.19L23.09,234.62L27.78,234.62M37.17,223.67L35.61,223.67L32.48,222.10L30.91,220.54L27.78,222.10L24.65,222.10L21.52,220.54L19.96,218.97L18.39,215.84L18.39,212.71L19.96,209.58L21.52,208.01L24.65,206.45L27.78,206.45L30.91,208.01L32.48,209.58L34.04,212.71L34.04,215.84L32.48,218.97L30.91,220.54M37.17,223.67L38.74,222.10L40.30,217.41L40.30,209.58L41.87,204.88L45.00,203.32L46.56,203.32L49.69,204.88L51.26,209.58L51.26,218.97L49.69,223.67L46.56,225.23L45.00,225.23L41.87,223.67L40.30,218.97M37.17,223.67L40.30,222.10L41.87,217.41L41.87,209.58L43.43,204.88L45.00,203.32M19.96,218.97L23.09,220.54L29.35,220.54L32.48,218.97M19.96,209.58L23.09,208.01L29.35,208.01L32.48,209.58M21.52,208.01L19.96,206.45L18.39,203.32L19.96,203.32L19.96,206.45M23.09,193.93L21.52,193.93L19.96,192.37L18.39,189.24L18.39,182.98L19.96,179.85L21.52,178.28L24.65,176.72L18.39,176.72L21.52,178.28M23.09,193.93L24.65,193.93L26.22,192.37L27.78,189.24L30.91,181.41L32.48,178.28L34.04,176.72L37.17,176.72L38.74,178.28L40.30,181.41L40.30,187.67L38.74,190.80L37.17,192.37L34.04,193.93L40.30,193.93L37.17,192.37M23.09,193.93L24.65,192.37L26.22,189.24L29.35,181.41L30.91,178.28L32.48,176.72L34.04,176.72M1.18,167.32L4.31,164.19L9.00,161.06L15.26,157.94L23.09,156.37L29.35,156.37L37.17,157.94L43.43,161.06L48.13,164.19L51.26,167.32M4.31,164.19L10.57,161.06L15.26,159.50L23.09,157.94L29.35,157.94L37.17,159.50L41.87,161.06L48.13,164.19M1137.85,288.45L1141.76,289.70L1144.42,292.05L1145.21,295.18L1144.42,298.31L1141.92,299.40L1136.29,298.31L1130.03,296.59L1126.11,296.27L1123.14,297.68L1121.73,300.97L1122.04,304.88L1123.45,308.01L1126.89,311.92L1131.75,315.52L1137.85,317.87L1144.11,319.36M1111.25,300.42L1155.07,310.83M1158.19,361.69L1153.50,358.56L1147.24,355.43L1139.41,353.86L1133.15,353.86L1125.33,355.43L1119.07,358.56L1114.38,361.69L1111.25,364.82M1158.19,361.69L1151.93,358.56L1147.24,356.99L1139.41,355.43L1133.15,355.43L1125.33,356.99L1120.63,358.56L1114.38,361.69M1158.19,361.69L1161.33,364.82M1144.11,383.60L1142.55,378.90L1139.41,375.77L1134.72,374.21L1131.59,374.21L1126.89,375.77L1123.77,378.90L1122.20,383.60L1122.20,386.73L1123.77,389.86L1126.89,392.99L1155.07,392.99L1155.07,388.29M1144.11,383.60L1142.55,380.47L1139.41,377.34L1134.72,375.77L1131.59,375.77L1126.89,377.34L1123.77,380.47L1122.20,383.60M1144.11,383.60L1144.11,386.73L1142.55,389.86L1139.41,392.99M1155.07,392.99L1155.07,394.55L1122.20,394.55L1122.20,392.99L1126.89,392.99M1122.20,394.55L1122.20,399.25M1134.72,408.64L1131.59,408.64L1126.89,410.20L1123.77,413.33L1122.20,416.46L1122.20,419.59L1123.77,424.29L1126.89,427.42M1134.72,408.64L1139.41,410.20L1142.55,413.33L1144.11,416.46L1144.11,421.16L1142.55,424.29L1140.98,425.85L1137.85,427.42L1134.72,427.42ZM1144.11,416.46L1142.55,411.77L1139.41,408.64L1134.72,407.07L1131.59,407.07L1126.89,408.64L1123.77,411.77L1122.20,416.46M1142.55,424.29L1139.41,425.85L1134.72,425.85M1125.33,436.81L1126.89,436.81L1130.03,438.37L1131.59,439.94L1134.72,438.37L1137.85,438.37L1140.98,439.94L1142.55,441.50L1144.11,444.63L1144.11,447.76L1142.55,450.89L1140.98,452.46L1137.85,454.02L1134.72,454.02L1131.59,452.46L1130.03,450.89L1128.46,447.76L1128.46,444.63L1130.03,441.50L1131.59,439.94M1125.33,436.81L1123.77,438.37L1122.20,443.07L1122.20,450.89L1120.63,455.59L1117.51,457.15L1115.94,457.15L1112.81,455.59L1111.25,450.89L1111.25,441.50L1112.81,436.81L1115.94,435.24L1117.51,435.24L1120.63,436.81L1122.20,441.50M1125.33,436.81L1122.20,438.37L1120.63,443.07L1120.63,450.89L1119.07,455.59L1117.51,457.15M1142.55,441.50L1139.41,439.94L1133.15,439.94L1130.03,441.50M1142.55,450.89L1139.41,452.46L1133.15,452.46L1130.03,450.89M1140.98,452.46L1142.55,454.02L1144.11,457.15L1142.55,457.15L1142.55,454.02M1139.41,466.54L1140.98,466.54L1142.55,468.11L1144.11,471.24L1144.11,477.50L1142.55,480.63L1140.98,482.19L1137.85,483.76L1144.11,483.76L1140.98,482.19M1139.41,466.54L1137.85,466.54L1136.29,468.11L1134.72,471.24L1131.59,479.06L1130.03,482.19L1128.46,483.76L1125.33,483.76L1123.77,482.19L1122.20,479.06L1122.20,472.80L1123.77,469.67L1125.33,468.11L1128.46,466.54L1122.20,466.54L1125.33,468.11M1139.41,466.54L1137.85,468.11L1136.29,471.24L1133.15,479.06L1131.59,482.19L1130.03,483.76L1128.46,483.76M1161.33,493.15L1158.19,496.28L1153.50,499.41L1147.24,502.54L1139.41,504.10L1133.15,504.10L1125.33,502.54L1119.07,499.41L1114.38,496.28L1111.25,493.15M1158.19,496.28L1151.93,499.41L1147.24,500.97L1139.41,502.54L1133.15,502.54L1125.33,500.97L1120.63,499.41L1114.38,496.28" fill="none" stroke="#000" stroke-width="4.20" stroke-linejoin="round" stroke-linecap="butt"/>
<path d="M363.17,62.58L365.45,62.25L367.72,62.90L372.92,76.09M369.48,67.45L363.50,75.90M376.50,68.10L388.20,68.10M376.50,72.00L388.20,72.00M394.70,64.85L396.00,64.20L397.95,62.25L397.95,75.90M397.30,62.90L397.30,75.90M394.70,75.90L400.55,75.90M409.65,66.80L407.70,67.45L406.40,68.75L405.75,70.70L405.75,72.00L406.40,73.95L407.70,75.25L409.65,75.90L410.95,75.90L412.90,75.25L414.20,73.95M409.65,66.80L408.35,67.45L407.05,68.75L406.40,70.70L406.40,72.00L407.05,73.95L408.35,75.25L409.65,75.90M409.65,66.80L411.60,66.80L412.90,67.45L414.20,68.75L414.20,69.40L413.55,70.05L412.90,69.40L413.55,68.75M417.45,66.80L420.05,66.80L420.05,75.90L417.45,75.90M419.40,66.80L419.40,75.90M420.05,68.75L421.35,67.45L423.30,66.80L424.60,66.80L426.55,67.45L427.20,68.75L427.20,75.90L424.60,75.90M420.05,75.90L422.00,75.90M424.60,66.80L425.90,67.45L426.55,68.75L426.55,75.90M427.20,68.75L428.50,67.45L430.45,66.80L431.75,66.80L433.70,67.45L434.35,68.75L434.35,75.90L431.75,75.90M427.20,75.90L429.15,75.90M431.75,66.80L433.05,67.45L433.70,68.75L433.70,75.90M434.35,75.90L436.30,75.90" fill="none" stroke="#ff00ff" stroke-width="3.70" stroke-linejoin="round" stroke-linecap="butt"/>
<path d="M774.98,62.58L777.25,62.25L779.53,62.90L784.73,76.09M781.28,67.45L775.30,75.90M788.30,68.10L800.00,68.10M788.30,72.00L800.00,72.00M806.50,64.85L807.80,64.20L809.75,62.25L809.75,75.90M809.10,62.90L809.10,75.90M806.50,75.90L812.35,75.90M816.90,66.80L819.50,66.80L819.50,75.90L816.90,75.90M818.85,66.80L818.85,75.90M819.50,68.75L820.80,67.45L822.75,66.80L824.05,66.80L826.00,67.45L826.65,68.75L826.65,75.90L824.05,75.90M819.50,75.90L821.45,75.90M824.05,66.80L825.35,67.45L826.00,68.75L826.00,75.90M826.65,68.75L827.95,67.45L829.90,66.80L831.20,66.80L833.15,67.45L833.80,68.75L833.80,75.90L831.20,75.90M826.65,75.90L828.60,75.90M831.20,66.80L832.50,67.45L833.15,68.75L833.15,75.90M833.80,75.90L835.75,75.90M838.35,66.80L840.95,66.80L840.95,75.90L838.35,75.90M840.30,66.80L840.30,75.90M840.95,68.75L842.25,67.45L844.20,66.80L845.50,66.80L847.45,67.45L848.10,68.75L848.10,75.90L845.50,75.90M840.95,75.90L842.90,75.90M845.50,66.80L846.80,67.45L847.45,68.75L847.45,75.90M848.10,68.75L849.40,67.45L851.35,66.80L852.65,66.80L854.60,67.45L855.25,68.75L855.25,75.90L852.65,75.90M848.10,75.90L850.05,75.90M852.65,66.80L853.95,67.45L854.60,68.75L854.60,75.90M855.25,75.90L857.20,75.90" fill="none" stroke="#ff00ff" stroke-width="3.70" stroke-linejoin="round" stroke-linecap="butt"/>
<path d="M825.30,668.70L825.30,674.70M822.80,670.20L827.80,673.20M827.80,670.20L822.80,673.20" fill="none" stroke="#000" stroke-width="3.70" stroke-linecap="round"/>
<path d="M774.50,660.20L777.10,660.20L777.10,669.30L774.50,669.30M776.45,660.20L776.45,669.30M777.10,664.10L777.75,662.15L779.05,660.85L780.35,660.20L782.30,660.20L782.95,660.85L782.95,661.50L782.30,662.15L781.65,661.50L782.30,660.85M777.10,669.30L779.05,669.30M787.85,667.10L786.65,667.50L785.85,668.70L785.45,670.70L785.45,671.90L785.85,673.90L786.65,675.10L787.85,675.50L788.65,675.50L789.85,675.10L790.65,673.90L791.05,671.90L791.05,670.70L790.65,668.70L789.85,667.50L788.65,667.10ZM787.85,667.10L787.05,667.50L786.65,667.90L786.25,668.70L785.85,670.70L785.85,671.90L786.25,673.90L786.65,674.70L787.05,675.10L787.85,675.50M788.65,675.50L789.45,675.10L789.85,674.70L790.25,673.90L790.65,671.90L790.65,670.70L790.25,668.70L789.85,667.90L789.45,667.50L788.65,667.10M793.90,673.85L805.60,653.05M807.50,655.65L815.30,655.65L817.25,656.30L817.90,656.95L818.55,658.25L818.55,659.55L817.90,660.85L817.25,661.50L815.30,662.15L810.10,662.15L810.10,655.65M807.50,669.30L812.05,669.30M809.45,655.65L809.45,669.30M810.10,662.15L810.10,669.30M813.35,662.15L814.65,662.80L815.30,663.45L817.25,668.00L817.90,668.65L818.55,668.65L819.20,668.00L819.20,667.35M814.65,662.80L815.30,664.10L816.60,668.65L817.25,669.30L818.55,669.30L819.20,668.00M815.30,655.65L816.60,656.30L817.25,656.95L817.90,658.25L817.90,659.55L817.25,660.85L816.60,661.50L815.30,662.15M833.00,661.50L844.70,661.50M833.00,665.40L844.70,665.40M859.40,658.25L860.05,658.90L859.40,659.55L858.75,658.90L858.75,658.25L859.40,656.95L860.05,656.30L862.00,655.65L864.60,655.65L866.55,656.30L867.20,657.60L867.20,659.55L866.55,660.85L864.60,661.50L862.65,661.50M864.60,655.65L865.90,656.30L866.55,657.60L866.55,659.55L865.90,660.85L864.60,661.50M864.60,661.50L865.90,662.15L867.20,663.45L867.85,664.75L867.85,666.70L867.20,668.00L866.55,668.65L864.60,669.30L862.00,669.30L860.05,668.65L859.40,668.00L858.75,666.70L858.75,666.05L859.40,665.40L860.05,666.05L859.40,666.70M866.55,662.80L867.20,664.75L867.20,666.70L866.55,668.00L865.90,668.65L864.60,669.30M872.40,658.25L873.05,658.90L872.40,659.55L871.75,658.90L871.75,658.25L872.40,656.95L873.05,656.30L875.00,655.65L877.60,655.65L879.55,656.30L880.20,657.60L880.20,659.55L879.55,660.85L877.60,661.50L875.65,661.50M877.60,655.65L878.90,656.30L879.55,657.60L879.55,659.55L878.90,660.85L877.60,661.50M877.60,661.50L878.90,662.15L880.20,663.45L880.85,664.75L880.85,666.70L880.20,668.00L879.55,668.65L877.60,669.30L875.00,669.30L873.05,668.65L872.40,668.00L871.75,666.70L871.75,666.05L872.40,665.40L873.05,666.05L872.40,666.70M879.55,662.80L880.20,664.75L880.20,666.70L879.55,668.00L878.90,668.65L877.60,669.30M886.05,668.00L885.40,668.65L886.05,669.30L886.70,668.65ZM891.90,658.25L892.55,658.90L891.90,659.55L891.25,658.90L891.25,658.25L891.90,656.95L892.55,656.30L894.50,655.65L897.10,655.65L899.05,656.30L899.70,657.60L899.70,659.55L899.05,660.85L897.10,661.50L895.15,661.50M897.10,655.65L898.40,656.30L899.05,657.60L899.05,659.55L898.40,660.85L897.10,661.50M897.10,661.50L898.40,662.15L899.70,663.45L900.35,664.75L900.35,666.70L899.70,668.00L899.05,668.65L897.10,669.30L894.50,669.30L892.55,668.65L891.90,668.00L891.25,666.70L891.25,666.05L891.90,665.40L892.55,666.05L891.90,666.70M899.05,662.80L899.70,664.75L899.70,666.70L899.05,668.00L898.40,668.65L897.10,669.30" fill="none" stroke="#000" stroke-width="3.70" stroke-linejoin="round" stroke-linecap="butt"/>
<path d="M825.30,709.30L825.30,715.30M822.80,710.80L827.80,713.80M827.80,710.80L822.80,713.80" fill="none" stroke="#0000ff" stroke-width="3.70" stroke-linecap="round"/>
<path d="M774.50,700.80L777.10,700.80L777.10,709.90L774.50,709.90M776.45,700.80L776.45,709.90M777.10,704.70L777.75,702.75L779.05,701.45L780.35,700.80L782.30,700.80L782.95,701.45L782.95,702.10L782.30,702.75L781.65,702.10L782.30,701.45M777.10,709.90L779.05,709.90M787.85,707.70L786.65,708.10L785.85,709.30L785.45,711.30L785.45,712.50L785.85,714.50L786.65,715.70L787.85,716.10L788.65,716.10L789.85,715.70L790.65,714.50L791.05,712.50L791.05,711.30L790.65,709.30L789.85,708.10L788.65,707.70ZM787.85,707.70L787.05,708.10L786.65,708.50L786.25,709.30L785.85,711.30L785.85,712.50L786.25,714.50L786.65,715.30L787.05,715.70L787.85,716.10M788.65,716.10L789.45,715.70L789.85,715.30L790.25,714.50L790.65,712.50L790.65,711.30L790.25,709.30L789.85,708.50L789.45,708.10L788.65,707.70M793.90,714.45L805.60,693.65M807.50,696.25L815.30,696.25L817.25,696.90L817.90,697.55L818.55,698.85L818.55,700.15L817.90,701.45L817.25,702.10L815.30,702.75L810.10,702.75L810.10,696.25M807.50,709.90L812.05,709.90M809.45,696.25L809.45,709.90M810.10,702.75L810.10,709.90M813.35,702.75L814.65,703.40L815.30,704.05L817.25,708.60L817.90,709.25L818.55,709.25L819.20,708.60L819.20,707.95M814.65,703.40L815.30,704.70L816.60,709.25L817.25,709.90L818.55,709.90L819.20,708.60M815.30,696.25L816.60,696.90L817.25,697.55L817.90,698.85L817.90,700.15L817.25,701.45L816.60,702.10L815.30,702.75M833.00,702.10L844.70,702.10M833.00,706.00L844.70,706.00M860.70,698.85L862.00,698.20L863.95,696.25L863.95,709.90M863.30,696.90L863.30,709.90M860.70,709.90L866.55,709.90M875.65,696.25L873.70,696.90L872.40,698.85L871.75,702.10L871.75,704.05L872.40,707.30L873.70,709.25L875.65,709.90L876.95,709.90L878.90,709.25L880.20,707.30L880.85,704.05L880.85,702.10L880.20,698.85L878.90,696.90L876.95,696.25ZM875.65,696.25L874.35,696.90L873.70,697.55L873.05,698.85L872.40,702.10L872.40,704.05L873.05,707.30L873.70,708.60L874.35,709.25L875.65,709.90M876.95,709.90L878.25,709.25L878.90,708.60L879.55,707.30L880.20,704.05L880.20,702.10L879.55,698.85L878.90,697.55L878.25,696.90L876.95,696.25M886.05,708.60L885.40,709.25L886.05,709.90L886.70,709.25ZM895.15,696.25L893.20,696.90L891.90,698.85L891.25,702.10L891.25,704.05L891.90,707.30L893.20,709.25L895.15,709.90L896.45,709.90L898.40,709.25L899.70,707.30L900.35,704.05L900.35,702.10L899.70,698.85L898.40,696.90L896.45,696.25ZM895.15,696.25L893.85,696.90L893.20,697.55L892.55,698.85L891.90,702.10L891.90,704.05L892.55,707.30L893.20,708.60L893.85,709.25L895.15,709.90M896.45,709.90L897.75,709.25L898.40,708.60L899.05,707.30L899.70,704.05L899.70,702.10L899.05,698.85L898.40,697.55L897.75,696.90L896.45,696.25" fill="none" stroke="#0000ff" stroke-width="3.70" stroke-linejoin="round" stroke-linecap="butt"/>
</svg>
</body></html>
